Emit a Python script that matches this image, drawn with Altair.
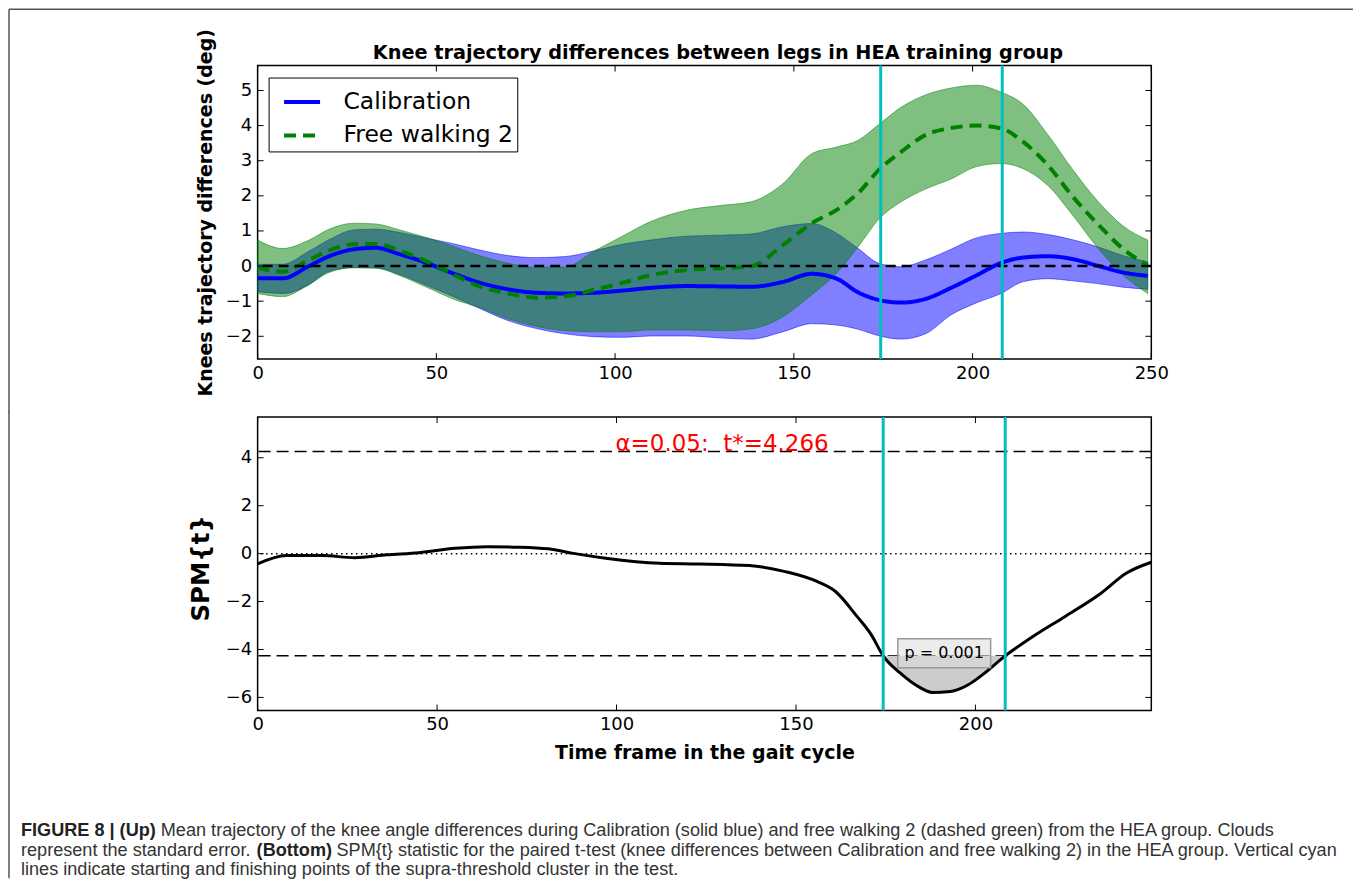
import altair as alt
import pandas as pd

# ---------------- data ----------------
series_names = ["Calibration", "Free walking 2"]
series_colors = ["#0000ff", "#008000"]
series_dash = [[1, 0], [12, 7]]

frames = [0, 7, 14, 20, 27, 33, 40, 47, 55, 62, 70, 78, 86, 94, 102, 110, 120, 130, 138,
          147, 155, 162, 168, 174, 180, 187, 194, 201, 208, 214, 221, 228, 235, 242, 249]
cal_mean = [-0.35, -0.35, -0.02, 0.28, 0.48, 0.52, 0.33, 0.10, -0.22, -0.47, -0.66, -0.76,
            -0.78, -0.76, -0.70, -0.62, -0.57, -0.58, -0.59, -0.45, -0.22, -0.36, -0.75,
            -0.97, -1.04, -0.93, -0.62, -0.27, 0.09, 0.24, 0.28, 0.20, 0.01, -0.18, -0.28]
cal_hi = [0.05, 0.05, 0.40, 0.75, 1.03, 1.05, 0.95, 0.80, 0.63, 0.46, 0.30, 0.24, 0.27,
          0.43, 0.62, 0.74, 0.85, 0.88, 0.91, 1.12, 1.21, 0.93, 0.50, 0.07, -0.02, 0.18,
          0.48, 0.80, 0.93, 0.97, 0.90, 0.75, 0.55, 0.30, 0.12]
cal_lo = [-0.73, -0.78, -0.55, -0.15, -0.04, -0.05, -0.25, -0.54, -0.88, -1.20, -1.55,
          -1.78, -1.93, -2.01, -2.03, -1.99, -1.99, -2.05, -2.08, -1.87, -1.64, -1.68,
          -1.80, -1.99, -2.08, -1.92, -1.39, -1.05, -0.78, -0.45, -0.36, -0.42, -0.50,
          -0.60, -0.66]
fw_mean = [-0.04, -0.16, 0.15, 0.45, 0.62, 0.63, 0.43, 0.15, -0.25, -0.58, -0.78, -0.90,
           -0.86, -0.68, -0.48, -0.26, -0.11, -0.06, -0.01, 0.60, 1.22, 1.60, 2.08, 2.76,
           3.25, 3.74, 3.93, 4.00, 3.92, 3.55, 2.88, 1.98, 1.20, 0.50, 0.02]
fw_hi = [0.74, 0.50, 0.72, 1.05, 1.22, 1.20, 1.02, 0.82, 0.55, 0.30, 0.08, -0.04, -0.03,
         0.42, 0.85, 1.27, 1.59, 1.73, 1.83, 2.35, 3.20, 3.39, 3.58, 4.05, 4.52, 4.88,
         5.07, 5.15, 4.95, 4.62, 3.75, 2.75, 1.85, 1.15, 0.74]
fw_lo = [-0.78, -0.87, -0.55, -0.18, -0.05, -0.06, -0.28, -0.59, -0.95, -1.18, -1.50,
         -1.72, -1.84, -1.87, -1.87, -1.82, -1.82, -1.84, -1.79, -1.44, -0.82, -0.20,
         0.55, 1.36, 1.83, 2.20, 2.48, 2.83, 2.92, 2.78, 2.30, 1.45, 0.52, -0.25, -0.78]

spm_frames = [0, 8, 18, 27, 36, 45, 55, 64, 73, 81, 88, 97, 112, 123, 137, 147, 156, 161,
              167, 171, 174.3, 179, 184, 188, 193, 198, 202, 208.3, 216, 225, 235, 242, 249]
spm_t = [-0.43, -0.08, -0.08, -0.17, -0.05, 0.04, 0.22, 0.29, 0.27, 0.20, 0.01, -0.19,
         -0.40, -0.43, -0.50, -0.75, -1.17, -1.58, -2.62, -3.39, -4.266, -4.98, -5.54,
         -5.79, -5.75, -5.47, -5.05, -4.266, -3.46, -2.62, -1.65, -0.82, -0.36]

t_star = 4.266
cluster_bounds = [174.3, 208.3]
p_label = "p = 0.001"
p_pos = [191.3, -4.16]
alpha_label = "α=0.05: \u00a0t*=4.266"
alpha_x = 129.4

top_title = "Knee trajectory differences between legs in HEA training group"
top_ylabel = "Knees trajectory differences (deg)"
bot_ylabel = "SPM{t}"
bot_xlabel = "Time frame in the gait cycle"
top_xticks = [0, 50, 100, 150, 200, 250]
top_yticks = [-2, -1, 0, 1, 2, 3, 4, 5]
bot_xticks = [0, 50, 100, 150, 200]
bot_yticks = [-6, -4, -2, 0, 2, 4]

cap_text = [
    "FIGURE 8 | (Up)",
    "Mean trajectory of the knee angle differences during Calibration (solid blue) and free walking 2 (dashed green) from the HEA group. Clouds",
    "represent the standard error.",
    "(Bottom)",
    "SPM{t} statistic for the paired t-test (knee differences between Calibration and free walking 2) in the HEA group. Vertical cyan",
    "lines indicate starting and finishing points of the supra-threshold cluster in the test.",
]
cap_bold = [True, False, False, True, False, False]
cap_x = [20, 160, 20, 256, 336, 20]
cap_y = [832, 832, 852, 852, 852, 871]

# ---------------- layout constants ----------------
W, H = 895, 294
OX_T, OY_T = 257, 65      # top plot origin on page
OX_B, OY_B = 257, 417     # bottom plot origin on page
FONT = "DejaVu Sans"
CYAN = "#00bfbf"

# ---------------- tables ----------------
df_cal = pd.DataFrame({"frame": frames, "lo": cal_lo, "hi": cal_hi})
df_fw = pd.DataFrame({"frame": frames, "lo": fw_lo, "hi": fw_hi})
df_lines = pd.concat([
    pd.DataFrame({"frame": frames, "value": cal_mean, "series": series_names[0]}),
    pd.DataFrame({"frame": frames, "value": fw_mean, "series": series_names[1]}),
])
df_spm = pd.DataFrame({"frame": spm_frames, "t": spm_t})
df_cluster = df_spm[(df_spm.frame >= cluster_bounds[0]) & (df_spm.frame <= cluster_bounds[1])].copy()
df_cluster["thr"] = -t_star
df_cyan = pd.DataFrame({"x": cluster_bounds})

xs_top = alt.Scale(domain=[0, 250], nice=False, zero=False)
ys_top = alt.Scale(domain=[-2.65, 5.71], nice=False, zero=False)
xs_bot = alt.Scale(domain=[0, 249], nice=False, zero=False)
ys_bot = alt.Scale(domain=[-6.55, 5.7], nice=False, zero=False)

ax_common = dict(ticks=False, domain=False, grid=False, labelFontSize=18, labelFont=FONT,
                 labelColor="black", labelFlush=False, format="d")

ax_top_x = alt.Axis(values=top_xticks, labelPadding=5, title=None, **ax_common)
ax_top_y = alt.Axis(values=top_yticks, labelPadding=6, title=top_ylabel, titleFontSize=19,
                    titleFontWeight="bold", titleX=-52, titleY=147, titleAngle=270,
                    titleAlign="center", titleBaseline="middle", titleColor="black",
                    titleFont=FONT, **ax_common)
ax_bot_x = alt.Axis(values=bot_xticks, labelPadding=5, title=bot_xlabel, titleFontSize=19,
                    titleFontWeight="bold", titleX=W / 2, titleY=42, titleAlign="center",
                    titleBaseline="middle", titleColor="black", titleFont=FONT, **ax_common)
ax_bot_y = alt.Axis(values=bot_yticks, labelPadding=6, title=bot_ylabel, titleFontSize=24.5,
                    titleFontWeight="bold", titleX=-56, titleY=151, titleAngle=270,
                    titleAlign="center", titleBaseline="middle", titleColor="black",
                    titleFont=FONT, **ax_common)

legend = alt.Legend(title=None, orient="none", legendX=11, legendY=12, direction="vertical",
                    symbolType="stroke", symbolStrokeWidth=4, symbolSize=1300,
                    labelFontSize=23.5, labelFont=FONT, labelColor="black", labelOffset=21,
                    symbolOffset=9, padding=4, rowPadding=1.5, strokeColor="black",
                    fillColor="white", cornerRadius=0, labelLimit=400)


def inward_ticks(xvals, yvals, xscale, yscale):
    tick = dict(color="black", strokeWidth=1)
    dx = pd.DataFrame({"v": xvals})
    dy = pd.DataFrame({"v": yvals})
    return [
        alt.Chart(dy).mark_rule(**tick).encode(y=alt.Y("v:Q", scale=yscale), x=alt.value(0), x2=alt.value(6)),
        alt.Chart(dy).mark_rule(**tick).encode(y=alt.Y("v:Q", scale=yscale), x=alt.value(W - 6), x2=alt.value(W)),
        alt.Chart(dx).mark_rule(**tick).encode(x=alt.X("v:Q", scale=xscale), y=alt.value(0), y2=alt.value(6)),
        alt.Chart(dx).mark_rule(**tick).encode(x=alt.X("v:Q", scale=xscale), y=alt.value(H - 6), y2=alt.value(H)),
    ]


frame_style = dict(color="#555555", strokeWidth=1.5)
one = pd.DataFrame({"a": [0]})

# ---------------- top panel ----------------
band_cal = alt.Chart(df_cal).mark_area(
    interpolate="monotone", fill=series_colors[0], fillOpacity=0.5,
    stroke=series_colors[0], strokeOpacity=0.5, strokeWidth=1
).encode(
    x=alt.X("frame:Q", scale=xs_top, axis=ax_top_x),
    y=alt.Y("lo:Q", scale=ys_top, axis=ax_top_y),
    y2="hi:Q",
)
band_fw = alt.Chart(df_fw).mark_area(
    interpolate="monotone", fill=series_colors[1], fillOpacity=0.5,
    stroke=series_colors[1], strokeOpacity=0.5, strokeWidth=1
).encode(
    x=alt.X("frame:Q", scale=xs_top),
    y=alt.Y("lo:Q", scale=ys_top),
    y2="hi:Q",
)
mean_lines = alt.Chart(df_lines).mark_line(interpolate="monotone", strokeWidth=4).encode(
    x=alt.X("frame:Q", scale=xs_top),
    y=alt.Y("value:Q", scale=ys_top),
    color=alt.Color("series:N", scale=alt.Scale(domain=series_names, range=series_colors), legend=legend),
    strokeDash=alt.StrokeDash("series:N", scale=alt.Scale(domain=series_names, range=series_dash), legend=legend),
)
zero_top = alt.Chart(pd.DataFrame({"y": [0]})).mark_rule(
    color="black", strokeWidth=2.5, strokeDash=[10, 6]
).encode(y=alt.Y("y:Q", scale=ys_top))
cyan_top = alt.Chart(df_cyan).mark_rule(color=CYAN, strokeWidth=3).encode(x=alt.X("x:Q", scale=xs_top))
title_top = alt.Chart(pd.DataFrame({"t": [top_title]})).mark_text(
    font=FONT, fontSize=19.3, fontWeight="bold", color="black", align="center", baseline="middle"
).encode(text="t:N", x=alt.value(718 - OX_T), y=alt.value(52 - OY_T))
frame_top_h = alt.Chart(one).mark_rule(**frame_style).encode(
    x=alt.value(-249), x2=alt.value(1354 - OX_T), y=alt.value(8.5 - OY_T))
frame_top_v = alt.Chart(one).mark_rule(**frame_style).encode(
    x=alt.value(-249), y=alt.value(8.5 - OY_T), y2=alt.value(348))

top = alt.layer(
    band_cal, band_fw, mean_lines, zero_top, cyan_top,
    *inward_ticks(top_xticks, top_yticks, xs_top, ys_top),
    title_top, frame_top_h, frame_top_v,
).properties(width=W, height=H)

# ---------------- bottom panel ----------------
thr_rules = alt.Chart(pd.DataFrame({"y": [t_star, -t_star]})).mark_rule(
    color="black", strokeWidth=1.5, strokeDash=[12, 6]
).encode(y=alt.Y("y:Q", scale=ys_bot, axis=ax_bot_y))
zero_bot = alt.Chart(pd.DataFrame({"y": [0]})).mark_rule(
    color="black", strokeWidth=1.5, strokeDash=[1.5, 3.5]
).encode(y=alt.Y("y:Q", scale=ys_bot))
cluster_fill = alt.Chart(df_cluster).mark_area(interpolate="monotone", color="#cccccc").encode(
    x=alt.X("frame:Q", scale=xs_bot, axis=ax_bot_x),
    y=alt.Y("t:Q", scale=ys_bot),
    y2="thr:Q",
)
spm_line = alt.Chart(df_spm).mark_line(interpolate="monotone", color="black", strokeWidth=3).encode(
    x=alt.X("frame:Q", scale=xs_bot),
    y=alt.Y("t:Q", scale=ys_bot),
)
cyan_bot = alt.Chart(df_cyan).mark_rule(color=CYAN, strokeWidth=3).encode(x=alt.X("x:Q", scale=xs_bot))
alpha_txt = alt.Chart(pd.DataFrame({"x": [alpha_x], "y": [t_star], "s": [alpha_label]})).mark_text(
    font=FONT, fontSize=23, color="#ff0000", align="center", baseline="alphabetic"
).encode(x=alt.X("x:Q", scale=xs_bot), y=alt.Y("y:Q", scale=ys_bot), text="s:N")
df_p = pd.DataFrame({"x": [p_pos[0]], "y": [p_pos[1]], "s": [p_label]})
p_box = alt.Chart(df_p).mark_point(
    shape="M-1,-0.312L1,-0.312L1,0.312L-1,0.312Z", size=93 ** 2, filled=True,
    fill="#dddddd", fillOpacity=0.55, stroke="#9a9a9a", strokeWidth=1.5, strokeOpacity=1, opacity=1
).encode(x=alt.X("x:Q", scale=xs_bot), y=alt.Y("y:Q", scale=ys_bot))
p_txt = alt.Chart(df_p).mark_text(
    font=FONT, fontSize=16, color="black", align="center", baseline="middle"
).encode(x=alt.X("x:Q", scale=xs_bot), y=alt.Y("y:Q", scale=ys_bot), text="s:N")

df_cap = pd.DataFrame({"s": cap_text, "bold": cap_bold,
                       "px": [x - OX_B for x in cap_x], "py": [y - OY_B for y in cap_y]})
cap_reg = alt.Chart(df_cap[~df_cap.bold]).mark_text(
    font="Liberation Sans", fontSize=18.15, color="#333333", align="left", baseline="middle"
).encode(text="s:N", x=alt.X("px:Q", scale=None), y=alt.Y("py:Q", scale=None))
cap_bld = alt.Chart(df_cap[df_cap.bold]).mark_text(
    font="Liberation Sans", fontSize=18.15, fontWeight="bold", color="#222222", align="left", baseline="middle"
).encode(text="s:N", x=alt.X("px:Q", scale=None), y=alt.Y("py:Q", scale=None))
frame_bot_v = alt.Chart(one).mark_rule(**frame_style).encode(
    x=alt.value(-249), y=alt.value(-5), y2=alt.value(879 - OY_B))

bottom = alt.layer(
    thr_rules, zero_bot, cluster_fill, spm_line, cyan_bot, alpha_txt, p_box, p_txt,
    *inward_ticks(bot_xticks, bot_yticks, xs_bot, ys_bot),
    cap_reg, cap_bld, frame_bot_v,
).properties(width=W, height=H)

chart = alt.vconcat(top, bottom, spacing=-5).properties(
    padding={"left": 7, "top": 7, "right": 0, "bottom": 0},
    background="white",
).configure_view(
    stroke="black", strokeWidth=1.5
).configure_axis(
    labelFont=FONT, titleFont=FONT
)

chart.save("out.html", embed_options={"renderer": "svg", "actions": False})
